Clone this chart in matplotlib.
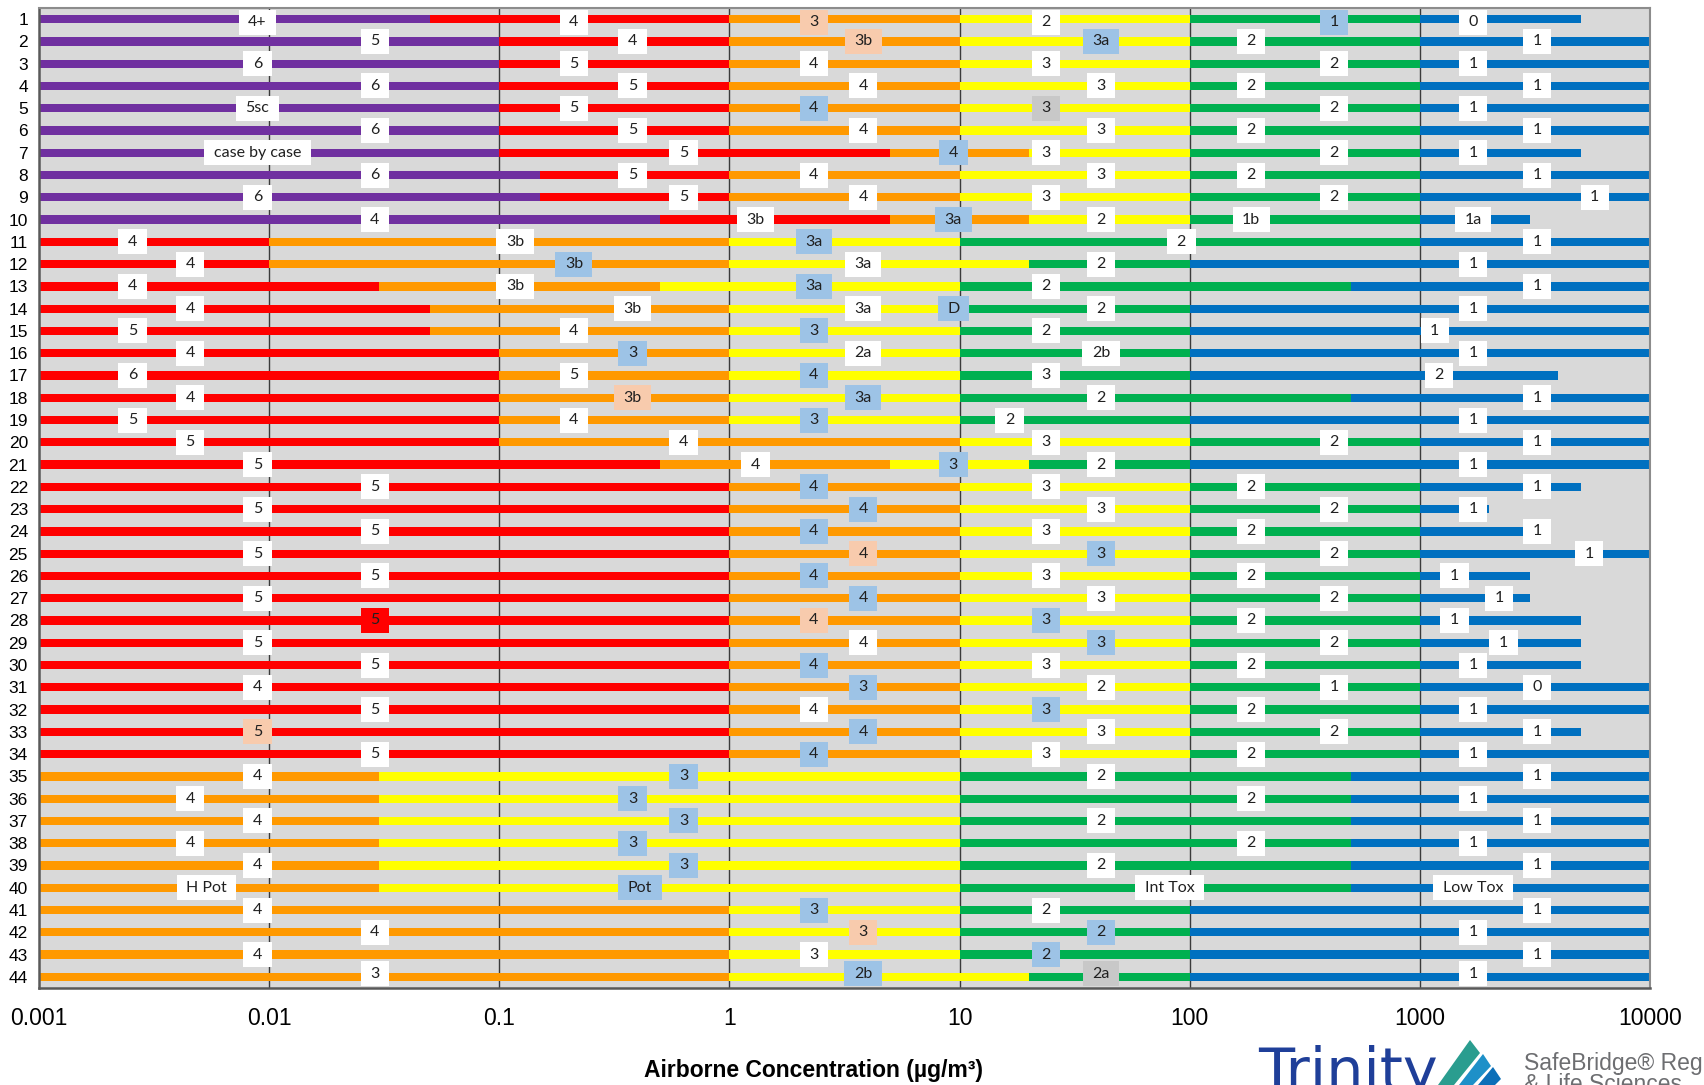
import matplotlib
matplotlib.use("Agg")
import matplotlib.pyplot as plt
from matplotlib.patches import Rectangle, Polygon
from matplotlib.transforms import IdentityTransform
from matplotlib.ticker import NullLocator

# rows of the chart (1 at top)
rows = list(range(1, 45))

# segment boundaries (ug/m3) and band colours for each row
seg_edges = [
    [0.001, 0.05, 1, 10, 100, 1000, 5000],      # 1
    [0.001, 0.1, 1, 10, 100, 1000, 10000],      # 2
    [0.001, 0.1, 1, 10, 100, 1000, 10000],      # 3
    [0.001, 0.1, 1, 10, 100, 1000, 10000],      # 4
    [0.001, 0.1, 1, 10, 100, 1000, 10000],      # 5
    [0.001, 0.1, 1, 10, 100, 1000, 10000],      # 6
    [0.001, 0.1, 5, 20, 100, 1000, 5000],       # 7
    [0.001, 0.15, 1, 10, 100, 1000, 10000],     # 8
    [0.001, 0.15, 1, 10, 100, 1000, 10000],     # 9
    [0.001, 0.5, 5, 20, 100, 1000, 3000],       # 10
    [0.001, 0.01, 1, 10, 1000, 10000],          # 11
    [0.001, 0.01, 1, 20, 100, 10000],           # 12
    [0.001, 0.03, 0.5, 10, 500, 10000],         # 13
    [0.001, 0.05, 1, 10, 100, 10000],           # 14
    [0.001, 0.05, 1, 10, 100, 10000],           # 15
    [0.001, 0.1, 1, 10, 100, 10000],            # 16
    [0.001, 0.1, 1, 10, 100, 4000],             # 17
    [0.001, 0.1, 1, 10, 500, 10000],            # 18
    [0.001, 0.1, 1, 10, 100, 10000],            # 19
    [0.001, 0.1, 10, 100, 1000, 10000],         # 20
    [0.001, 0.5, 5, 20, 100, 10000],            # 21
    [0.001, 1, 10, 100, 1000, 5000],            # 22
    [0.001, 1, 10, 100, 1000, 2000],            # 23
    [0.001, 1, 10, 100, 1000, 3000],            # 24
    [0.001, 1, 10, 100, 1000, 10000],           # 25
    [0.001, 1, 10, 100, 1000, 3000],            # 26
    [0.001, 1, 10, 100, 1000, 3000],            # 27
    [0.001, 1, 10, 100, 1000, 5000],            # 28
    [0.001, 1, 10, 100, 1000, 5000],            # 29
    [0.001, 1, 10, 100, 1000, 5000],            # 30
    [0.001, 1, 10, 100, 1000, 10000],           # 31
    [0.001, 1, 10, 100, 1000, 10000],           # 32
    [0.001, 1, 10, 100, 1000, 5000],            # 33
    [0.001, 1, 10, 100, 1000, 10000],           # 34
    [0.001, 0.03, 10, 500, 10000],              # 35
    [0.001, 0.03, 10, 500, 10000],              # 36
    [0.001, 0.03, 10, 500, 10000],              # 37
    [0.001, 0.03, 10, 500, 10000],              # 38
    [0.001, 0.03, 10, 500, 10000],              # 39
    [0.001, 0.03, 10, 500, 10000],              # 40
    [0.001, 1, 10, 100, 10000],                 # 41
    [0.001, 1, 10, 100, 10000],                 # 42
    [0.001, 1, 10, 100, 10000],                 # 43
    [0.001, 1, 20, 100, 10000],                 # 44
]
seg_colors = (["PROYGB"] * 10 + ["ROYGB"] * 24 + ["OYGB"] * 10)

# label text, position and box colour (w white, b blue, p peach, g grey, r red)
label_text = [
    ["4+", "4", "3", "2", "1", "0"],
    ["5", "4", "3b", "3a", "2", "1"],
    ["6", "5", "4", "3", "2", "1"],
    ["6", "5", "4", "3", "2", "1"],
    ["5sc", "5", "4", "3", "2", "1"],
    ["6", "5", "4", "3", "2", "1"],
    ["case by case", "5", "4", "3", "2", "1"],
    ["6", "5", "4", "3", "2", "1"],
    ["6", "5", "4", "3", "2", "1"],
    ["4", "3b", "3a", "2", "1b", "1a"],
    ["4", "3b", "3a", "2", "1"],
    ["4", "3b", "3a", "2", "1"],
    ["4", "3b", "3a", "2", "1"],
    ["4", "3b", "3a", "D", "2", "1"],
    ["5", "4", "3", "2", "1"],
    ["4", "3", "2a", "2b", "1"],
    ["6", "5", "4", "3", "2"],
    ["4", "3b", "3a", "2", "1"],
    ["5", "4", "3", "2", "1"],
    ["5", "4", "3", "2", "1"],
    ["5", "4", "3", "2", "1"],
    ["5", "4", "3", "2", "1"],
    ["5", "4", "3", "2", "1"],
    ["5", "4", "3", "2", "1"],
    ["5", "4", "3", "2", "1"],
    ["5", "4", "3", "2", "1"],
    ["5", "4", "3", "2", "1"],
    ["5", "4", "3", "2", "1"],
    ["5", "4", "3", "2", "1"],
    ["5", "4", "3", "2", "1"],
    ["4", "3", "2", "1", "0"],
    ["5", "4", "3", "2", "1"],
    ["5", "4", "3", "2", "1"],
    ["5", "4", "3", "2", "1"],
    ["4", "3", "2", "1"],
    ["4", "3", "2", "1"],
    ["4", "3", "2", "1"],
    ["4", "3", "2", "1"],
    ["4", "3", "2", "1"],
    ["H Pot", "Pot", "Int Tox", "Low Tox"],
    ["4", "3", "2", "1"],
    ["4", "3", "2", "1"],
    ["4", "3", "2", "1"],
    ["3", "2b", "2a", "1"],
]
label_x = [
    [0.0089, 0.211, 2.33, 23.7, 423, 1700],
    [0.0288, 0.379, 3.81, 41.2, 185, 3230],
    [0.0089, 0.211, 2.33, 23.7, 423, 1700],
    [0.0288, 0.379, 3.81, 41.2, 185, 3230],
    [0.0089, 0.211, 2.33, 23.7, 423, 1700],
    [0.0288, 0.379, 3.81, 41.2, 185, 3230],
    [0.0089, 0.632, 9.4, 23.7, 423, 1700],
    [0.0288, 0.379, 2.33, 41.2, 185, 3230],
    [0.0089, 0.632, 3.81, 23.7, 423, 5750],
    [0.0288, 1.30, 9.4, 41.2, 185, 1700],
    [0.00255, 0.117, 2.33, 92, 3230],
    [0.00454, 0.211, 3.81, 41.2, 1700],
    [0.00255, 0.117, 2.33, 23.7, 3230],
    [0.00454, 0.379, 3.81, 9.4, 41.2, 1700],
    [0.00255, 0.211, 2.33, 23.7, 1160],
    [0.00454, 0.379, 3.81, 41.2, 1700],
    [0.00255, 0.211, 2.33, 23.7, 1210],
    [0.00454, 0.379, 3.81, 41.2, 3230],
    [0.00255, 0.211, 2.33, 16.5, 1700],
    [0.00454, 0.632, 23.7, 423, 3230],
    [0.0089, 1.30, 9.4, 41.2, 1700],
    [0.0288, 2.33, 23.7, 185, 3230],
    [0.0089, 3.81, 41.2, 423, 1700],
    [0.0288, 2.33, 23.7, 185, 3230],
    [0.0089, 3.81, 41.2, 423, 5450],
    [0.0288, 2.33, 23.7, 185, 1413],
    [0.0089, 3.81, 41.2, 423, 2210],
    [0.0288, 2.33, 23.7, 185, 1413],
    [0.0089, 3.81, 41.2, 423, 2310],
    [0.0288, 2.33, 23.7, 185, 1700],
    [0.0089, 3.81, 41.2, 423, 3230],
    [0.0288, 2.33, 23.7, 185, 1700],
    [0.0089, 3.81, 41.2, 423, 3230],
    [0.0288, 2.33, 23.7, 185, 1700],
    [0.0089, 0.632, 41.2, 3230],
    [0.00454, 0.379, 185, 1700],
    [0.0089, 0.632, 41.2, 3230],
    [0.00454, 0.379, 185, 1700],
    [0.0089, 0.632, 41.2, 3230],
    [0.00534, 0.409, 81.8, 1700],
    [0.0089, 2.33, 23.7, 3230],
    [0.0288, 3.81, 41.2, 1700],
    [0.0089, 2.33, 23.7, 3230],
    [0.0288, 3.81, 41.2, 1700],
]
label_bg = [
    "wwpwbw", "wwpbww", "wwwwww", "wwwwww", "wwbgww",
    "wwwwww", "wwbwww", "wwwwww", "wwwwww", "wwbwww",
    "wwbww", "wbwww", "wwbww", "wwwbww", "wwbww",
    "wbwww", "wwbww", "wpbww", "wwbww", "wwwww",
    "wwbww", "wbwww", "wbwww", "wbwww", "wpbww",
    "wbwww", "wbwww", "rpbww", "wwbww", "wbwww",
    "wbwww", "wwbww", "pbwww", "wbwww",
    "wbww", "wbww", "wbww", "wbww", "wbww", "wbww",
    "wbww", "wpbw", "wwbw", "wbgw",
]

x_ticks = [0.001, 0.01, 0.1, 1, 10, 100, 1000, 10000]
x_tick_labels = ["0.001", "0.01", "0.1", "1", "10", "100", "1000", "10000"]

band = {"P": "#7030A0", "R": "#FF0000", "O": "#FF9900",
        "Y": "#FFFF00", "G": "#00B050", "B": "#0070C0"}
box = {"w": "#FFFFFF", "b": "#9DC3E6", "p": "#F8CBAD",
       "g": "#C8C8C8", "r": "#FF0000"}

W, H = 1704, 1085
fig = plt.figure(figsize=(W / 100, H / 100), dpi=100)
ax = fig.add_axes([39 / W, 1 - 988 / H, (1650 - 39) / W, (988 - 8) / H])
ax.set_facecolor("#D9D9D9")
ax.set_xscale("log")
ax.set_xlim(0.001, 10000)
ax.set_ylim(44.5, 0.5)

for d in x_ticks[1:-1]:
    ax.axvline(d, color="#3A3A3A", lw=1.0, zorder=1)

for i, r in enumerate(rows):
    e = seg_edges[i]
    for j, c in enumerate(seg_colors[i]):
        ax.barh(r, e[j + 1] - e[j], left=e[j], height=0.37,
                color=band[c], lw=0, zorder=2)

texts = []
for i, r in enumerate(rows):
    for t, x, b in zip(label_text[i], label_x[i], label_bg[i]):
        txt = ax.text(x, r, t, ha="center", va="center", fontsize=11.5,
                      family="Lato", color="#202020", zorder=4)
        texts.append((txt, b))

ax.set_xticks(x_ticks)
ax.set_xticklabels(x_tick_labels, fontsize=16.5, family="Liberation Sans")
ax.xaxis.set_minor_locator(NullLocator())
ax.tick_params(axis="x", length=0, pad=14)
ax.set_yticks(rows)
ax.set_yticklabels([str(r) for r in rows], fontsize=12.5, family="Liberation Sans")
ax.tick_params(axis="y", length=0, pad=8)
for s in ["top", "right"]:
    ax.spines[s].set_color("#8C8C8C")
    ax.spines[s].set_linewidth(1.5)
for s in ["left", "bottom"]:
    ax.spines[s].set_color("#595959")
    ax.spines[s].set_linewidth(1.8)

# label boxes, sized from the text, kept inside the plot area
fig.canvas.draw()
rend = fig.canvas.get_renderer()
axbb = ax.get_window_extent(rend)
bh = 25
for txt, b in texts:
    bb = txt.get_window_extent(rend)
    xc = (bb.x0 + bb.x1) / 2
    bw = bb.width + 19
    yc = ax.transData.transform(txt.get_position())[1]
    top = min(yc + bh / 2, axbb.y1 - 2)
    bot = max(top - bh, axbb.y0 + 2)
    ax.add_patch(Rectangle((xc - bw / 2, bot), bw, bh, transform=IdentityTransform(),
                           fc=box[b], ec="none", zorder=3))
    txt.set_transform(IdentityTransform())
    txt.set_position((xc, bot + bh / 2))

fig.text(813 / W, 15 / H, "Airborne Concentration (µg/m³)", ha="center", va="center",
         fontsize=16.5, weight="bold", family="Liberation Sans")

# logo strip at bottom right (cut by the lower edge, as in the source)
fig.text(1258 / W, -5 / H, "Trinity", fontsize=42.5, color="#1F3F99",
         family="DejaVu Sans", va="baseline", ha="left")
for pts, col in [
    ([(1438, 1085), (1470, 1040), (1480, 1053), (1454, 1085)], "#2A9D8F"),
    ([(1459, 1085), (1483, 1054), (1491, 1066), (1473, 1085)], "#1E90C8"),
    ([(1478, 1085), (1493, 1067), (1501, 1079), (1495, 1085)], "#0B6FB8"),
]:
    fig.add_artist(Polygon([(x / W, 1 - y / H) for x, y in pts], closed=True,
                           transform=fig.transFigure, fc=col, ec="none"))
fig.text(1524 / W, 1 - 1070 / H, "SafeBridge® Regulatory", fontsize=16.5,
         color="#6D6E71", family="Liberation Sans", va="baseline")
fig.text(1524 / W, 1 - 1091 / H, "& Life Sciences", fontsize=16.5,
         color="#6D6E71", family="Liberation Sans", va="baseline")

fig.savefig("out.png", dpi=100)
